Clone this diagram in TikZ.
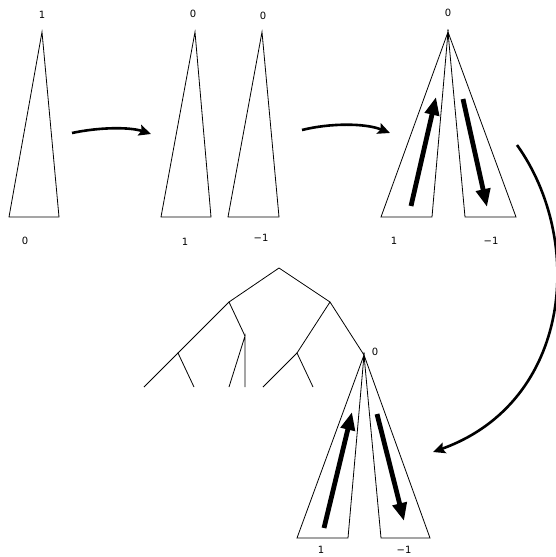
\documentclass[tikz,border=0pt]{standalone}
\usepackage{fontspec}
\setmainfont{DejaVu Sans}
\usetikzlibrary{arrows.meta}
\begin{document}
\begin{tikzpicture}[x=1pt,y=-1pt,
  tri/.style={draw=black,line width=0.8pt,line join=miter},
  edge/.style={draw=black,line width=0.8pt},
  lbl/.style={font=\fontsize{10}{11}\selectfont,inner sep=0pt},
  bendarrow/.style={draw=black,line width=2.6pt,-{Stealth[length=12pt,width=11pt,inset=2pt]}},
  fatarrow/.style={draw=black,line width=4.8pt,-{Triangle[length=18pt,width=14pt]}}]
\useasboundingbox (0,0) rectangle (556,557);
% triangle 1
\coordinate (a1) at (42,32); \coordinate (a1l) at (9,217); \coordinate (a1r) at (59,217);
\draw[tri] (a1) -- (a1l) -- (a1r) -- cycle;
\node[lbl] (t1) at (42,15) {1};
\node[lbl] (b1) at (25,241) {0};
% triangle 2
\coordinate (a2) at (195,32); \coordinate (a2l) at (161,217); \coordinate (a2r) at (211,217);
\draw[tri] (a2) -- (a2l) -- (a2r) -- cycle;
\node[lbl] (t2) at (193,14) {0};
\node[lbl] (b2) at (185,242) {1};
% triangle 3
\coordinate (a3) at (262,32); \coordinate (a3l) at (228,217); \coordinate (a3r) at (279,217);
\draw[tri] (a3) -- (a3l) -- (a3r) -- cycle;
\node[lbl] (t3) at (263,16) {0};
\node[lbl] (b3) at (261,238) {−1};
% big triangle
\coordinate (a4) at (448,32);
\coordinate (a4l) at (381,217); \coordinate (a4m1) at (432,217);
\coordinate (a4m2) at (465,217); \coordinate (a4r) at (516,217);
\draw[tri] (a4) -- (a4l) -- (a4m1) -- cycle;
\draw[tri] (a4) -- (a4m2) -- (a4r) -- cycle;
\node[lbl] (t4) at (448,13) {0};
\node[lbl] (b4l) at (394,241) {1};
\node[lbl] (b4r) at (491,241) {−1};
\coordinate (u1s) at (411,206); \coordinate (u1e) at (436,97);
\coordinate (d1s) at (463,99); \coordinate (d1e) at (487,207);
\draw[fatarrow] (u1s) -- (u1e);
\draw[fatarrow] (d1s) -- (d1e);
% curved arrows
\coordinate (c1s) at (72,133); \coordinate (c1e) at (151,134);
\draw[bendarrow] (c1s) .. controls (100,127) and (130,127) .. (c1e);
\coordinate (c2s) at (302,130); \coordinate (c2e) at (390,133);
\draw[bendarrow] (c2s) .. controls (330,123) and (365,123) .. (c2e);
\coordinate (c3s) at (517,145); \coordinate (c3e) at (433,452);
\draw[bendarrow] (c3s) .. controls (585,240) and (572,402) .. (c3e);
% bottom tree
\coordinate (r) at (279,268);
\coordinate (n1) at (229,302); \coordinate (n2) at (330,302);
\coordinate (n11) at (178,353); \coordinate (n12) at (245,336);
\coordinate (n111) at (144,387); \coordinate (n112) at (194,387);
\coordinate (n121) at (229,387); \coordinate (n122) at (245,387);
\coordinate (n21) at (297,353); \coordinate (n22) at (364,355);
\coordinate (n211) at (263,387); \coordinate (n212) at (313,387);
\draw[edge] (n1) -- (r) -- (n2);
\draw[edge] (n11) -- (n1) -- (n12);
\draw[edge] (n111) -- (n11) -- (n112);
\draw[edge] (n121) -- (n12) -- (n122);
\draw[edge] (n21) -- (n2) -- (n22);
\draw[edge] (n211) -- (n21) -- (n212);
\node[lbl] (t5) at (375,352) {0};
% bottom triangle
\coordinate (a5l) at (297,538); \coordinate (a5m1) at (348,538);
\coordinate (a5m2) at (381,538); \coordinate (a5r) at (430,538);
\draw[tri] (n22) -- (a5l) -- (a5m1) -- cycle;
\draw[tri] (n22) -- (a5m2) -- (a5r) -- cycle;
\node[lbl] (b5l) at (321,550) {1};
\node[lbl] (b5r) at (404,550) {−1};
\coordinate (u2s) at (324,528); \coordinate (u2e) at (352,412);
\coordinate (d2s) at (377,414); \coordinate (d2e) at (404,521);
\draw[fatarrow] (u2s) -- (u2e);
\draw[fatarrow] (d2s) -- (d2e);
\end{tikzpicture}
\end{document}
